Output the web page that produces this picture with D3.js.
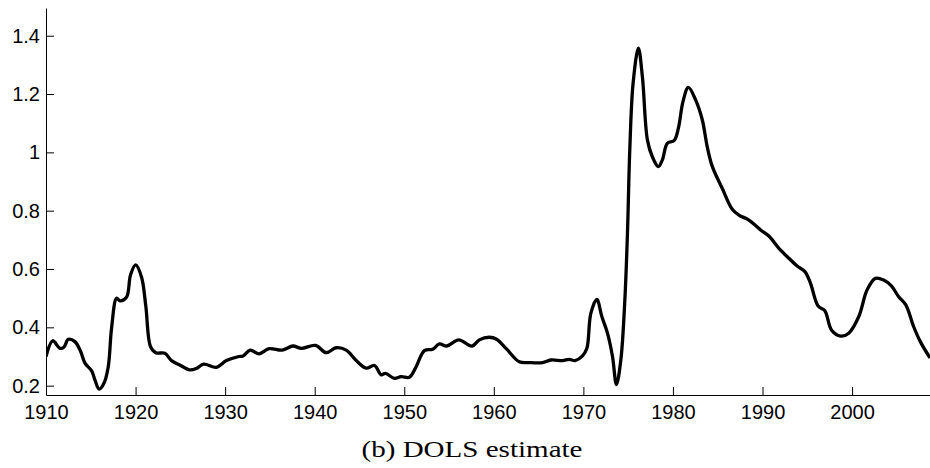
<!DOCTYPE html>
<html>
<head>
<meta charset="utf-8">
<script src="https://cdn.jsdelivr.net/npm/d3@7"></script>
<style>
  body { margin: 0; background: #fff; }
  .tick text { font-family: "Liberation Sans", Arial, sans-serif; font-size: 20px; fill: #000; }
  .axis path, .axis line { stroke: #000; stroke-width: 1; }
</style>
</head>
<body>
<div id="chart"></div>
<script>
// values
var years = [1910.0, 1910.75, 1911.56, 1912.0, 1912.5, 1913.23, 1913.87, 1914.35, 1915.1, 1915.46,
  1915.94, 1916.47, 1916.95, 1917.32, 1917.88, 1918.25, 1918.99, 1919.44, 1920.0, 1920.67,
  1921.15, 1921.67, 1922.26, 1923.27, 1924.01, 1924.94, 1926.05, 1926.8, 1927.61, 1929.03,
  1930.14, 1931.55, 1932.0, 1932.8, 1933.78, 1934.9, 1936.38, 1937.57, 1938.5, 1940.1,
  1941.29, 1942.4, 1943.52, 1944.64, 1945.75, 1946.68, 1947.42, 1947.9, 1948.9, 1949.65,
  1950.58, 1951.25, 1952.25, 1953.18, 1953.92, 1954.74, 1956.08, 1957.57, 1958.38, 1959.5,
  1960.31, 1961.36, 1962.84, 1963.96, 1965.44, 1966.38, 1967.67, 1968.42, 1969.08, 1969.9,
  1970.39, 1970.83, 1971.5, 1972.06, 1972.69, 1973.25, 1973.69, 1974.18, 1974.63, 1974.92,
  1975.18, 1975.55, 1976.14, 1976.59, 1977.15, 1977.7, 1978.37, 1978.82, 1979.37, 1980.12,
  1980.6, 1981.12, 1981.72, 1982.54, 1983.28, 1983.83, 1984.4, 1985.5, 1986.62, 1987.37,
  1988.48, 1989.79, 1990.71, 1991.83, 1992.94, 1993.87, 1994.73, 1995.36, 1996.21, 1996.96,
  1997.7, 1998.71, 1999.63, 2000.75, 2001.67, 2002.6, 2003.53, 2004.39, 2005.2, 2006.0,
  2006.88, 2007.62, 2008.7];

var estimate = [0.30, 0.354, 0.328, 0.332, 0.359, 0.351, 0.317, 0.277, 0.251, 0.220,
  0.188, 0.208, 0.265, 0.397, 0.50, 0.491, 0.503, 0.580, 0.614, 0.572,
  0.471, 0.334, 0.313, 0.311, 0.286, 0.271, 0.254, 0.259, 0.274, 0.263,
  0.286, 0.300, 0.302, 0.322, 0.309, 0.327, 0.322, 0.336, 0.328, 0.338,
  0.313, 0.330, 0.322, 0.286, 0.260, 0.269, 0.237, 0.242, 0.225, 0.231,
  0.229, 0.260, 0.320, 0.325, 0.343, 0.336, 0.357, 0.336, 0.357, 0.366,
  0.359, 0.328, 0.282, 0.279, 0.279, 0.288, 0.286, 0.290, 0.286, 0.302,
  0.328, 0.448, 0.496, 0.437, 0.380, 0.300, 0.204, 0.288, 0.494, 0.722,
  1.008, 1.237, 1.357, 1.259, 1.042, 0.985, 0.951, 0.974, 1.031, 1.040,
  1.082, 1.174, 1.223, 1.179, 1.111, 1.019, 0.951, 0.877, 0.805, 0.785,
  0.768, 0.734, 0.713, 0.671, 0.637, 0.610, 0.591, 0.551, 0.473, 0.457,
  0.391, 0.370, 0.380, 0.437, 0.528, 0.568, 0.562, 0.542, 0.505, 0.477,
  0.402, 0.351, 0.295];

var xTicks = [1910, 1920, 1930, 1940, 1950, 1960, 1970, 1980, 1990, 2000];
var yTicks = [0.2, 0.4, 0.6, 0.8, 1.0, 1.2, 1.4];
var caption = "(b) DOLS estimate";

var width = 930, height = 468;
// note: "top" is taken by window.top, so plot edges get their own names
var plotLeft = 46, plotRight = 930, plotTop = 8, plotBottom = 395;

var svg = d3.select("#chart").append("svg")
    .attr("width", width)
    .attr("height", height);

var x = d3.scaleLinear().domain([1910, 2008.7]).range([plotLeft, plotRight]);
var y = d3.scaleLinear().domain([0.168, 1.495]).range([plotBottom, plotTop]);

svg.append("defs").append("clipPath").attr("id", "clip")
  .append("rect")
    .attr("x", plotLeft).attr("y", plotTop)
    .attr("width", plotRight - plotLeft).attr("height", plotBottom - plotTop);

var points = years.map(function(yr, i) { return [yr, estimate[i]]; });

var line = d3.line()
    .x(function(d) { return x(d[0]); })
    .y(function(d) { return y(d[1]); })
    .curve(d3.curveCatmullRom.alpha(0.5));

svg.append("path")
    .datum(points)
    .attr("clip-path", "url(#clip)")
    .attr("fill", "none")
    .attr("stroke", "#000")
    .attr("stroke-width", 3.3)
    .attr("stroke-linejoin", "round")
    .attr("d", line);

// axes, ticks pointing inward like matlab
svg.append("g")
    .attr("class", "axis")
    .attr("transform", "translate(0," + plotBottom + ")")
    .call(d3.axisBottom(x).tickValues(xTicks).tickFormat(d3.format("d"))
      .tickSizeInner(-8).tickSizeOuter(0).tickPadding(10));

svg.append("g")
    .attr("class", "axis")
    .attr("transform", "translate(" + plotLeft + ",0)")
    .call(d3.axisLeft(y).tickValues(yTicks)
      .tickFormat(function(v) { return String(+v.toFixed(1)); })
      .tickSizeInner(-8).tickSizeOuter(0).tickPadding(6));

svg.selectAll(".axis .domain").attr("fill", "none");

svg.append("text")
    .attr("x", 472)
    .attr("y", 457)
    .attr("text-anchor", "middle")
    .attr("textLength", 221)
    .attr("lengthAdjust", "spacingAndGlyphs")
    .style("font-family", "'Liberation Serif', 'DejaVu Serif', serif")
    .style("font-size", "23px")
    .text(caption);
</script>
</body>
</html>
